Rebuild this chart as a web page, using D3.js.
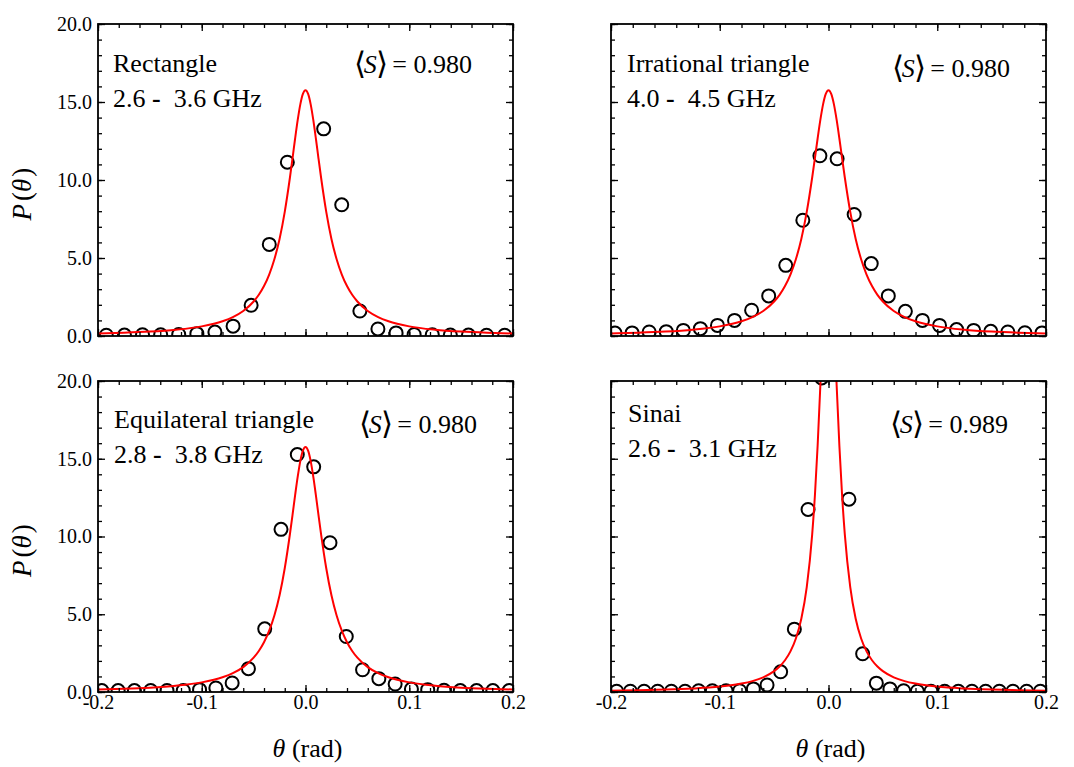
<!DOCTYPE html>
<html><head><meta charset="utf-8">
<script src="https://cdn.jsdelivr.net/npm/d3@7"></script>
<style>
body{margin:0;background:#fff}
svg{display:block}
text{font-family:"Liberation Serif","Times New Roman",Times,serif;fill:#000}
</style>
</head><body>
<svg id="chart" width="1074" height="767"></svg>
<script>
// ---------------- data ----------------
const xTickValues = [-0.2, -0.1, 0, 0.1, 0.2];
const xTickLabels = ["-0.2", "-0.1", "0.0", "0.1", "0.2"];
const yTickValues = [0, 5, 10, 15, 20];
const yTickLabels = ["0.0", "5.0", "10.0", "15.0", "20.0"];

const panelNames = ["Rectangle", "Irrational triangle", "Equilateral triangle", "Sinai"];
const freqLow  = ["2.6", "4.0", "2.8", "2.6"];
const freqHigh = ["3.6", "4.5", "3.8", "3.1"];
const meanS    = ["0.980", "0.980", "0.980", "0.989"];

// Rectangle
const rectTheta = [-0.1920,-0.1745,-0.1571,-0.1396,-0.1222,-0.1047,-0.0873,-0.0698,-0.0524,-0.0349,-0.0175,
                    0.0175, 0.0349, 0.0524, 0.0698, 0.0873, 0.1047, 0.1222, 0.1396, 0.1571, 0.1745, 0.1920];
const rectP     = [0.05,0.06,0.08,0.08,0.10,0.15,0.25,0.63,1.97,5.87,11.14,
                   13.28,8.41,1.60,0.45,0.20,0.10,0.08,0.06,0.06,0.05,0.05];

// Irrational triangle
const irrTheta = [-0.1963,-0.1806,-0.1649,-0.1492,-0.1335,-0.1178,-0.1021,-0.0864,-0.0707,-0.0550,-0.0393,-0.0236,-0.0079,
                   0.0079, 0.0236, 0.0393, 0.0550, 0.0707, 0.0864, 0.1021, 0.1178, 0.1335, 0.1492, 0.1649, 0.1806, 0.1963];
const irrP     = [0.19,0.20,0.26,0.28,0.36,0.47,0.68,1.00,1.65,2.57,4.53,7.42,11.55,
                  11.36,7.79,4.64,2.57,1.58,1.00,0.68,0.41,0.36,0.30,0.26,0.21,0.20];

// Equilateral triangle
const eqTheta = irrTheta.slice();
const eqP     = [0.09,0.09,0.09,0.10,0.10,0.10,0.15,0.26,0.58,1.50,4.06,10.46,15.27,
                 14.48,9.60,3.57,1.43,0.86,0.51,0.19,0.15,0.11,0.09,0.09,0.09,0.09];

// Sinai
const sinaiTheta = [-0.1948,-0.1822,-0.1696,-0.1571,-0.1445,-0.1319,-0.1194,-0.1068,-0.0942,-0.0817,-0.0691,-0.0565,-0.0440,-0.0314,-0.0188,-0.0063,
                     0.0188, 0.0314, 0.0440, 0.0565, 0.0691, 0.0817, 0.0942, 0.1068, 0.1194, 0.1319, 0.1445, 0.1571, 0.1696, 0.1822, 0.1948];
const sinaiP     = [0.05,0.05,0.05,0.05,0.05,0.05,0.08,0.08,0.08,0.08,0.20,0.45,1.30,4.04,11.74,20.20,
                    12.40,2.46,0.57,0.20,0.08,0.05,0.05,0.05,0.05,0.05,0.05,0.05,0.05,0.05,0.05];

// red theory curves
const curveTheta = [-0.2,-0.175,-0.15,-0.125,-0.1,-0.08,-0.07,-0.06,-0.05,-0.045,-0.04,-0.035,-0.03,-0.025,-0.02,-0.015,-0.0125,-0.01,-0.0075,-0.005,-0.0025,0,
                     0.0025,0.005,0.0075,0.01,0.0125,0.015,0.02,0.025,0.03,0.035,0.04,0.045,0.05,0.06,0.07,0.08,0.1,0.125,0.15,0.175,0.2];
const curveP980 = [0.160,0.208,0.281,0.402,0.618,0.945,1.21,1.60,2.21,2.64,3.20,3.94,4.92,6.22,7.96,10.16,11.39,12.66,13.85,14.85,15.52,15.76,
                   15.52,14.85,13.85,12.66,11.39,10.16,7.96,6.22,4.92,3.94,3.20,2.64,2.21,1.60,1.21,0.945,0.618,0.402,0.281,0.208,0.160];
const curveP989 = [0.088,0.115,0.156,0.224,0.348,0.540,0.701,0.946,1.343,1.64,2.04,2.61,3.44,4.71,6.74,10.14,12.64,15.84,19.71,23.90,27.38,28.78,
                   27.38,23.90,19.71,15.84,12.64,10.14,6.74,4.71,3.44,2.61,2.04,1.64,1.343,0.946,0.701,0.540,0.348,0.224,0.156,0.115,0.088];

// ---------------- layout ----------------
const panels = [
  {box:{l:98, t:24, r:513, b:336}, yLab:true,  xLab:false, nameX:113, nameY:72,  sX:472,  sY:73,  theta:rectTheta,  P:rectP,  curve:curveP980},
  {box:{l:611,t:24, r:1046,b:336}, yLab:false, xLab:false, nameX:627, nameY:72,  sX:1010, sY:77,  theta:irrTheta,   P:irrP,   curve:curveP980},
  {box:{l:98, t:381,r:513, b:692}, yLab:true,  xLab:true,  nameX:114, nameY:428, sX:477,  sY:433, theta:eqTheta,    P:eqP,    curve:curveP980},
  {box:{l:611,t:381,r:1046,b:692}, yLab:false, xLab:true,  nameX:628, nameY:422, sX:1008, sY:433, theta:sinaiTheta, P:sinaiP, curve:curveP989}
];

const svg = d3.select("#chart");
const defs = svg.append("defs");
const xMinor = d3.range(-10, 11).map(i => i * 0.02);
const yMinor = d3.range(0, 21);

panels.forEach((p, i) => {
  const b = p.box;
  const x = d3.scaleLinear().domain([-0.2, 0.2]).range([b.l, b.r]);
  const y = d3.scaleLinear().domain([0, 20]).range([b.b, b.t]);
  const g = svg.append("g");

  defs.append("clipPath").attr("id", "clip" + i)
    .append("rect").attr("x", b.l).attr("y", b.t).attr("width", b.r - b.l).attr("height", b.b - b.t);
  const plot = g.append("g").attr("clip-path", `url(#clip${i})`);

  // data circles
  plot.selectAll("circle").data(p.theta.map((t, k) => [t, p.P[k]])).join("circle")
    .attr("cx", d => x(d[0])).attr("cy", d => y(d[1])).attr("r", 6.5)
    .attr("fill", "none").attr("stroke", "#000").attr("stroke-width", 2);

  // theory curve
  const line = d3.line().x(d => x(d[0])).y(d => y(d[1])).curve(d3.curveMonotoneX);
  plot.append("path").datum(curveTheta.map((t, k) => [t, p.curve[k]]))
    .attr("d", line).attr("fill", "none").attr("stroke", "#ff0000").attr("stroke-width", 2);

  // axes (inward ticks on all four sides)
  const style = sel => { sel.select(".domain").remove(); sel.selectAll("line").attr("stroke", "#000").attr("stroke-width", 1.3); sel.selectAll("text").attr("font-size", 20).attr("font-family", "Liberation Serif, Times New Roman, serif"); };
  const fmtX = v => xTickLabels[xTickValues.findIndex(t => Math.abs(t - v) < 1e-9)];
  const fmtY = v => yTickLabels[yTickValues.indexOf(v)];

  g.append("g").attr("transform", `translate(0,${b.b})`)
    .call(d3.axisBottom(x).tickValues(xMinor).tickSize(-4).tickFormat("")).call(style);
  g.append("g").attr("transform", `translate(0,${b.b})`)
    .call(d3.axisBottom(x).tickValues(xTickValues).tickSize(-7).tickPadding(3).tickFormat(p.xLab ? fmtX : "")).call(style);
  g.append("g").attr("transform", `translate(0,${b.t})`)
    .call(d3.axisTop(x).tickValues(xMinor).tickSize(-4).tickFormat("")).call(style);
  g.append("g").attr("transform", `translate(0,${b.t})`)
    .call(d3.axisTop(x).tickValues(xTickValues).tickSize(-7).tickFormat("")).call(style);

  g.append("g").attr("transform", `translate(${b.l},0)`)
    .call(d3.axisLeft(y).tickValues(yMinor).tickSize(-4).tickFormat("")).call(style);
  g.append("g").attr("transform", `translate(${b.l},0)`)
    .call(d3.axisLeft(y).tickValues(yTickValues).tickSize(-7).tickPadding(6).tickFormat(p.yLab ? fmtY : "")).call(style);
  g.append("g").attr("transform", `translate(${b.r},0)`)
    .call(d3.axisRight(y).tickValues(yMinor).tickSize(-4).tickFormat("")).call(style);
  g.append("g").attr("transform", `translate(${b.r},0)`)
    .call(d3.axisRight(y).tickValues(yTickValues).tickSize(-7).tickFormat("")).call(style);

  // frame
  g.append("rect").attr("x", b.l).attr("y", b.t).attr("width", b.r - b.l).attr("height", b.b - b.t)
    .attr("fill", "none").attr("stroke", "#000").attr("stroke-width", 1.8);

  // panel name and band
  g.append("text").attr("x", p.nameX).attr("y", p.nameY).attr("font-size", 26).text(panelNames[i]);
  const band = g.append("text").attr("x", p.nameX).attr("y", p.nameY + 35).attr("font-size", 26).style("white-space", "pre");
  band.append("tspan").text(freqLow[i] + " ");
  band.append("tspan").attr("font-weight", "bold").text("-");
  band.append("tspan").text("  " + freqHigh[i] + " GHz");

  // <S> value
  const st = g.append("text").attr("x", p.sX).attr("y", p.sY).attr("font-size", 26).attr("text-anchor", "end").style("white-space", "pre");
  st.append("tspan").attr("font-family", "DejaVu Sans").attr("font-size", 31).attr("font-weight", 200).attr("dy", 1).text("\u27E8");
  st.append("tspan").attr("font-style", "italic").attr("dx", -2).attr("dy", -1).text("S");
  st.append("tspan").attr("font-family", "DejaVu Sans").attr("font-size", 31).attr("font-weight", 200).attr("dx", -1).attr("dy", 1).text("\u27E9");
  st.append("tspan").attr("dx", -2).attr("dy", -1).text(" = " + meanS[i]);

  // y label
  if (p.yLab) {
    const cy = (b.t + b.b) / 2 + 14;
    const yl = g.append("text").attr("transform", `translate(31,${cy}) rotate(-90)`).attr("text-anchor", "middle").attr("font-size", 27);
    yl.append("tspan").attr("font-style", "italic").text("P");
    yl.append("tspan").attr("dx", 3).text("(");
    yl.append("tspan").attr("font-style", "italic").text("\u03B8");
    yl.append("tspan").attr("dx", 2).text(")");
  }
  // x label
  if (p.xLab) {
    const xl = g.append("text").attr("x", (b.l + b.r) / 2 + 2).attr("y", 757).attr("text-anchor", "middle").attr("font-size", 26).style("white-space", "pre");
    xl.append("tspan").attr("font-style", "italic").text("\u03B8");
    xl.append("tspan").text(" (rad)");
  }
});
</script>
</body></html>
